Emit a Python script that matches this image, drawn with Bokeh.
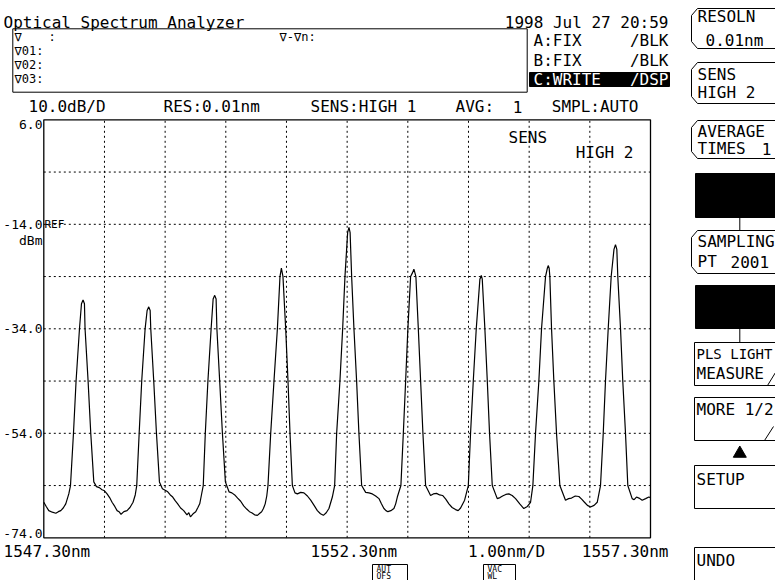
from bokeh.plotting import figure
from bokeh.models import Range1d
from bokeh.core.properties import value
from bokeh.embed import file_html
from bokeh.resources import INLINE

# ---------------- data ----------------
wavelength_nm = [
    1547.300, 1547.340, 1547.382, 1547.440, 1547.498, 1547.540, 1547.580, 1547.620,
    1547.662, 1547.712, 1547.740, 1547.789, 1547.832, 1547.888, 1547.921, 1547.947,
    1547.970, 1547.980, 1548.030, 1548.074, 1548.124, 1548.168, 1548.215, 1548.260,
    1548.300, 1548.343, 1548.385, 1548.425, 1548.470, 1548.508, 1548.540, 1548.573,
    1548.620, 1548.672, 1548.720, 1548.771, 1548.807,
    1548.832, 1548.872, 1548.914, 1548.970, 1549.003, 1549.030, 1549.053, 1549.063,
    1549.112, 1549.157, 1549.206, 1549.255, 1549.300, 1549.343, 1549.385, 1549.425,
    1549.465, 1549.507, 1549.555, 1549.606, 1549.660, 1549.690, 1549.717, 1549.760,
    1549.804, 1549.840, 1549.870, 1549.895,
    1549.928, 1549.962, 1550.005, 1550.058, 1550.091, 1550.117, 1550.140, 1550.153,
    1550.199, 1550.244, 1550.293, 1550.353, 1550.400, 1550.447, 1550.495, 1550.545,
    1550.595, 1550.644, 1550.690, 1550.727, 1550.775, 1550.821, 1550.860, 1550.891,
    1550.920, 1550.949, 1550.975,
    1550.995, 1551.040, 1551.094, 1551.150, 1551.193, 1551.216, 1551.242, 1551.287,
    1551.325, 1551.358, 1551.397, 1551.440, 1551.480, 1551.535, 1551.588, 1551.645,
    1551.699, 1551.755, 1551.809, 1551.860, 1551.908, 1551.955, 1552.000, 1552.056,
    1552.094, 1552.127, 1552.181, 1552.226, 1552.264, 1552.308, 1552.330, 1552.349,
    1552.374, 1552.412, 1552.456, 1552.494, 1552.539, 1552.605, 1552.660, 1552.715,
    1552.770, 1552.824, 1552.865, 1552.906, 1552.940, 1552.972, 1553.020, 1553.071,
    1553.100, 1553.127,
    1553.186, 1553.226, 1553.264, 1553.301, 1553.346, 1553.380, 1553.400, 1553.415,
    1553.433, 1553.473, 1553.511, 1553.549, 1553.593, 1553.675, 1553.720, 1553.774,
    1553.825, 1553.873, 1553.925, 1553.977, 1554.030, 1554.087, 1554.130, 1554.170,
    1554.236,
    1554.297, 1554.334, 1554.379, 1554.428, 1554.488, 1554.511, 1554.527, 1554.570,
    1554.610, 1554.647, 1554.692, 1554.774, 1554.820, 1554.862, 1554.915, 1554.965,
    1555.020, 1555.076, 1555.145, 1555.212, 1555.270, 1555.323,
    1555.361, 1555.405, 1555.460, 1555.504, 1555.570, 1555.600, 1555.614, 1555.630,
    1555.641, 1555.669, 1555.707, 1555.751, 1555.806, 1555.899, 1555.950, 1555.998,
    1556.060, 1556.119, 1556.165, 1556.212, 1556.260, 1556.311, 1556.370, 1556.422,
    1556.476, 1556.521, 1556.558, 1556.603, 1556.652, 1556.698, 1556.723, 1556.745,
    1556.761, 1556.806, 1556.843, 1556.888, 1556.926, 1556.998, 1557.030, 1557.069,
    1557.110, 1557.163, 1557.220, 1557.272, 1557.300,
]
level_dbm = [
    -67.2, -68.0, -68.8, -69.1, -69.3, -69.0, -68.8, -68.3,
    -67.5, -65.6, -64.0, -54.0, -44.0, -34.0, -29.2, -28.5,
    -29.2, -34.0, -44.0, -54.0, -63.3, -64.2, -64.4, -64.8,
    -65.0, -65.6, -66.3, -67.2, -68.0, -68.8, -69.0, -69.5,
    -69.0, -68.8, -68.2, -67.2, -65.8,
    -64.0, -54.0, -44.0, -34.0, -30.5, -29.8, -30.5, -34.0,
    -44.0, -54.0, -63.3, -64.6, -64.9, -65.2, -65.8, -66.2,
    -66.9, -67.5, -68.3, -68.8, -69.6, -69.2, -70.0, -69.4,
    -69.0, -68.2, -67.5, -66.0,
    -64.0, -54.0, -44.0, -34.0, -28.3, -27.6, -28.3, -34.0,
    -44.0, -54.0, -63.3, -65.2, -65.4, -65.8, -66.4, -67.0,
    -67.9, -68.5, -69.0, -69.2, -69.6, -69.7, -69.3, -69.0,
    -68.4, -67.5, -66.0,
    -64.0, -54.0, -44.0, -34.0, -24.0, -22.4, -24.0, -34.0,
    -44.0, -54.0, -64.0, -65.4, -65.6, -65.3, -65.4, -66.0,
    -66.8, -67.8, -68.8, -69.4, -69.7, -69.2, -68.4, -66.2,
    -64.0, -54.0, -44.0, -34.0, -24.0, -15.6, -14.6, -15.6,
    -24.0, -34.0, -44.0, -54.0, -64.0, -65.3, -65.4, -65.6,
    -66.0, -66.5, -67.5, -68.4, -68.8, -69.0, -68.8, -68.4,
    -67.5, -66.2,
    -64.0, -54.0, -44.0, -34.0, -24.0, -23.2, -22.6, -23.2,
    -24.0, -34.0, -44.0, -54.0, -64.0, -65.9, -65.6, -65.5,
    -65.8, -65.9, -66.6, -67.5, -68.2, -68.6, -68.8, -68.3,
    -66.8,
    -64.0, -54.0, -44.0, -34.0, -24.5, -23.8, -24.5, -34.0,
    -44.0, -54.0, -64.0, -66.5, -66.3, -66.0, -65.7, -65.6,
    -65.9, -66.5, -67.5, -68.4, -68.0, -67.2,
    -64.0, -54.0, -44.0, -34.0, -24.0, -22.4, -21.9, -22.4,
    -24.0, -34.0, -44.0, -54.0, -64.0, -66.8, -66.5, -66.4,
    -66.0, -66.1, -66.6, -67.2, -67.8, -68.1, -67.8, -67.2,
    -64.0, -54.0, -44.0, -34.0, -24.0, -18.8, -17.9, -18.8,
    -24.0, -34.0, -44.0, -54.0, -64.0, -66.5, -66.7, -66.2,
    -66.4, -66.8, -66.5, -66.2, -66.3,
]

start_nm, stop_nm = 1547.30, 1557.30
bottom_dbm, top_dbm = -74.0, 6.0
x_grid_nm = [1548.30, 1549.30, 1550.30, 1551.30, 1552.30, 1553.30, 1554.30, 1555.30, 1556.30]
y_grid_dbm = [-4.0, -14.0, -24.0, -34.0, -44.0, -54.0, -64.0]
y_tick_values = [6.0, -14.0, -34.0, -54.0, -74.0]
y_tick_labels = ["6.0", "-14.0", "-34.0", "-54.0", "-74.0"]
x_tick_values = [1547.30, 1552.30, 1557.30]
x_tick_labels = ["1547.30nm", "1552.30nm", "1557.30nm"]

# ---------------- layout (screen pixels of the reference) ----------------
W, H = 775, 580
OX, OY = 0, 0
FL, FR, FT, FB = 43.3, 650.0, 119.3, 537.3
kx = (stop_nm - start_nm) / (FR - FL)
ky = (top_dbm - bottom_dbm) / (FB - FT)


def X(px):
    return start_nm + (px - FL) * kx


def Y(py):
    return top_dbm - (py - FT) * ky


p = figure(width=W, height=H, output_backend="svg", toolbar_location=None,
           x_range=Range1d(X(OX), X(OX + W)), y_range=Range1d(Y(OY + H), Y(OY)),
           x_axis_type=None, y_axis_type=None, min_border=0,
           outline_line_color=None, background_fill_color="white",
           border_fill_color="white")
p.grid.visible = False

MONO = "DejaVu Sans Mono"


def txt(s, px, py, size=16, align="left", base="middle", color="black", font=MONO):
    p.text(x=[X(px)], y=[Y(py)], text=[s], text_font=value(font),
           text_font_size=value(f"{size}px"), text_align=align,
           text_baseline=base, text_color=color)


def box(l, r, t, b, fill=None, lw=1.0):
    if fill:
        p.quad(left=[X(l)], right=[X(r)], top=[Y(t)], bottom=[Y(b)],
               fill_color=fill, line_color=fill)
    else:
        p.quad(left=[X(l)], right=[X(r)], top=[Y(t)], bottom=[Y(b)],
               fill_color=None, line_color="black", line_width=lw)


def poly(pts, lw=1.0):
    p.line(x=[X(a) for a, _ in pts], y=[Y(b) for _, b in pts], line_color="black",
           line_width=lw)


# ---------------- grid & frame ----------------
p.segment(x0=x_grid_nm, x1=x_grid_nm, y0=[bottom_dbm] * len(x_grid_nm),
          y1=[top_dbm] * len(x_grid_nm), line_color="black", line_width=1,
          line_dash="2 3")
p.segment(x0=[start_nm] * len(y_grid_dbm), x1=[stop_nm] * len(y_grid_dbm),
          y0=y_grid_dbm, y1=y_grid_dbm, line_color="black", line_width=1,
          line_dash="2 3")
p.quad(left=[start_nm], right=[stop_nm], top=[top_dbm], bottom=[bottom_dbm],
       fill_color=None, line_color="black", line_width=1.3)

# ---------------- trace ----------------
p.line(wavelength_nm, level_dbm, line_color="black", line_width=1.2)

# ---------------- axis labels ----------------
bases = ["top", "middle", "middle", "middle", "bottom"]
for v, lab, b in zip(y_tick_values, y_tick_labels, bases):
    p.text(x=[X(42)], y=[v], text=[lab], text_font=value(MONO),
           text_font_size=value("13px"), text_align="right", text_baseline=b)
txt("REF", 44, 224, size=11)
txt("dBm", 42, 240, size=13, align="right")
aligns = ["left", "right", "right"]
xoffs = [3 - FL, 398 - 347.9, 668 - FR]
for v, lab, a, dx in zip(x_tick_values, x_tick_labels, aligns, xoffs):
    p.text(x=[v + dx * kx], y=[Y(551)], text=[lab], text_font=value(MONO),
           text_font_size=value("16px"), text_align=a, text_baseline="middle")
txt("1.00nm/D", 506, 551, align="center")

# AUT OFS / VAC WL small boxes
box(372, 407, 564, 600)
txt("AUT", 376, 569, size=8)
txt("OFS", 376, 576, size=8)
box(483, 515, 564, 600)
txt("VAC", 487, 569, size=8)
txt("WL", 487, 576, size=8)

# in-plot text
txt("SENS", 508, 137)
txt("HIGH 2", 633, 152, align="right")

# ---------------- header ----------------
txt("Optical Spectrum Analyzer", 3, 22, base="alphabetic")
txt("1998 Jul 27 20:59", 668, 22, align="right", base="alphabetic")
box(12.3, 526.7, 28.3, 91.7)
txt("\u2207", 14, 36, size=12)
txt(":", 48, 36, size=12)
txt("\u2207-\u2207n:", 279, 36, size=12)
txt("\u220701:", 14, 50, size=12)
txt("\u220702:", 14, 64, size=12)
txt("\u220703:", 14, 78, size=12)
txt("A:FIX", 533, 40)
txt("/BLK", 668, 40, align="right")
txt("B:FIX", 533, 60)
txt("/BLK", 668, 60, align="right")
box(529, 669, 72, 86, fill="black")
txt("C:WRITE", 533, 79, color="white")
txt("/DSP", 668, 79, align="right", color="white")

txt("10.0dB/D", 28, 106)
txt("RES:0.01nm", 163, 106)
txt("SENS:HIGH 1", 310, 106)
txt("AVG:", 455, 106)
txt("1", 522, 106, align="right")
txt("SMPL:AUTO", 638, 106, align="right")

# ---------------- right soft-key menu ----------------
RE = 800


def bracket_box(t, b):
    poly([(RE, t), (697, t), (691, t + 7), (691, b - 7), (697, b), (RE, b)])


bracket_box(8, 48)
txt("RESOLN", 697, 16)
txt("0.01nm", 705, 40)
bracket_box(62, 103)
txt("SENS", 697, 74)
txt("HIGH 2", 697, 92)
bracket_box(120, 158)
txt("AVERAGE", 697, 131)
txt("TIMES", 697, 148)
txt("1", 771, 148, align="right")
box(695, RE, 173, 217, fill="black")
poly([(739.3, 217), (739.3, 230)])
bracket_box(230, 273)
txt("SAMPLING", 697, 241)
txt("PT", 697, 261)
txt("2001", 730, 261)
box(695, RE, 285, 328, fill="black")
poly([(739.3, 328), (739.3, 342)])
box(694, RE, 342, 385)
txt("PLS LIGHT", 696, 353, size=14)
txt("MEASURE", 696, 373)
poly([(767, 385), (775, 372)])
box(694, RE, 397, 440)
txt("MORE 1/2", 696, 409)
poly([(764, 440), (773, 426)])
p.scatter(x=[X(739.3)], y=[Y(453)], marker="triangle", size=13,
          fill_color="black", line_color="black")
box(694, RE, 465, 508)
txt("SETUP", 696, 479)
box(694, RE, 547, 620)
txt("UNDO", 696, 560)

open("out.html", "w").write(file_html(p, INLINE))
